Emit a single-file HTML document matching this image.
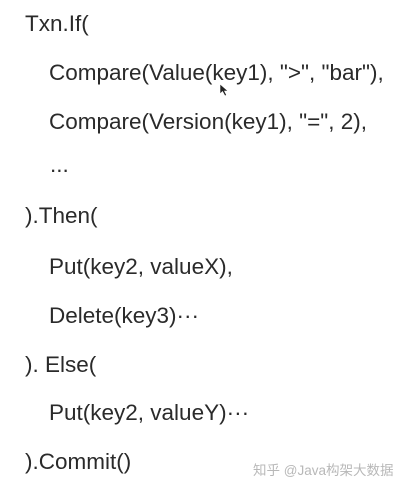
<!DOCTYPE html>
<html><head><meta charset="utf-8"><style>
html,body{margin:0;padding:0;background:#fff;}
body{width:403px;height:488px;position:relative;overflow:hidden;font-family:"Liberation Sans",sans-serif;color:#2a2a2a;}
.l{position:absolute;font-size:22.5px;line-height:26px;white-space:nowrap;}
.wm{position:absolute;left:253px;top:459px;font-size:13.5px;color:#b8b8b8;font-family:"Liberation Sans","Noto Sans CJK SC",sans-serif;white-space:nowrap;}
</style></head><body>
<div class="l" style="left:25px;top:11px">Txn.If(</div>
<div class="l" style="left:49px;top:60px">Compare(Value(key1), "&gt;", "bar"),</div>
<div class="l" style="left:49px;top:109px">Compare(Version(key1), "=", 2),</div>
<div class="l" style="left:50px;top:152px">...</div>
<div class="l" style="left:25px;top:203px">).Then(</div>
<div class="l" style="left:49px;top:254px">Put(key2, valueX),</div>
<div class="l" style="left:49px;top:303px">Delete(key3)···</div>
<div class="l" style="left:25px;top:352px">). Else(</div>
<div class="l" style="left:49px;top:400px">Put(key2, valueY)···</div>
<div class="l" style="left:25px;top:449px">).Commit()</div>
<svg style="position:absolute;left:219px;top:83px" width="10" height="14"><path d="M1 1 L1 11 L3.5 8.5 L6 13 L7.5 12 L5.5 8 L9 8 Z" fill="#222" stroke="#fff" stroke-width="0.6"/></svg>
<div class="wm">知乎 @Java构架大数据</div>
</body></html>
